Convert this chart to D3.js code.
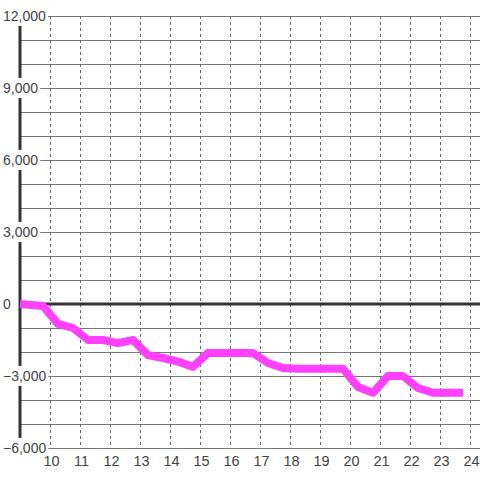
<!DOCTYPE html>
<html>
<head>
<meta charset="utf-8">
<script src="https://cdn.jsdelivr.net/npm/d3@7"></script>
<style>
  html, body { margin: 0; padding: 0; background: #fff; }
  svg { display: block; }
</style>
</head>
<body>
<svg id="chart" width="480" height="480"></svg>
<script>
// ---- data ----
const times = ["9:00","9:46","10:16","10:46","11:16","11:46","12:16","12:46","13:16","13:46",
  "14:16","14:46","15:16","15:46","16:16","16:46","17:16","17:46","18:16","18:46",
  "19:16","19:46","20:16","20:46","21:16","21:46","22:16","22:46","23:16","23:46"];
const values = [0,-80,-830,-1000,-1500,-1500,-1630,-1500,-2130,-2250,
  -2400,-2620,-2040,-2040,-2040,-2040,-2460,-2670,-2700,-2700,
  -2700,-2700,-3460,-3700,-3000,-3000,-3500,-3700,-3700,-3700];
const xTicks = [10,11,12,13,14,15,16,17,18,19,20,21,22,23,24];
const yLabelTicks = [12000, 9000, 6000, 3000, 0, -3000, -6000];
const yGridTicks = d3.range(-6000, 12001, 1000);

// ---- chart ----
const W = 480, H = 480;
const svg = d3.select("#chart");
const x = d3.scaleLinear().domain([9, 24 + 1/3]).range([20, 480]);
const y = d3.scaleLinear().domain([-6000, 12000]).range([448, 16]);
const toHour = s => { const [h, m] = s.split(":").map(Number); return h + m / 60; };
const data = times.map((t, i) => ({ t: toHour(t), v: values[i] }));

const font = "'Liberation Sans', Arial, sans-serif";

// horizontal grid
svg.append("g").selectAll("line").data(yGridTicks.filter(d => d !== 0)).join("line")
  .attr("x1", x(9)).attr("x2", W)
  .attr("y1", d => Math.round(y(d)) + 0.5).attr("y2", d => Math.round(y(d)) + 0.5)
  .attr("stroke", "#777").attr("stroke-width", 1);

// vertical dashed grid
svg.append("g").selectAll("line").data(xTicks).join("line")
  .attr("x1", d => Math.round(x(d)) + 0.5).attr("x2", d => Math.round(x(d)) + 0.5)
  .attr("y1", y(12000)).attr("y2", y(-6000))
  .attr("stroke", "#666").attr("stroke-width", 1).attr("stroke-dasharray", "3,3");

// zero line
svg.append("line")
  .attr("x1", x(9)).attr("x2", W).attr("y1", y(0)).attr("y2", y(0))
  .attr("stroke", "#333").attr("stroke-width", 3);

// y axis line
svg.append("line")
  .attr("x1", x(9)).attr("x2", x(9)).attr("y1", y(12000)).attr("y2", y(-6000))
  .attr("stroke", "#333").attr("stroke-width", 3);

// y labels with white backgrounds
const yl = svg.append("g").selectAll("g").data(yLabelTicks).join("g")
  .attr("transform", d => `translate(3,${y(d)})`);
yl.each(function(d) {
  const g = d3.select(this);
  const txt = g.append("text")
    .attr("x", 0).attr("dy", "0.35em")
    .attr("font-family", font).attr("font-size", "14px").attr("fill", "#444")
    .text(d3.format(",")(d));
  const bb = txt.node().getBBox();
  g.insert("rect", "text")
    .attr("x", bb.x - 1).attr("y", bb.y - 2)
    .attr("width", bb.width + 3).attr("height", bb.height + 4)
    .attr("fill", "#fff");
});

// x labels
svg.append("g").selectAll("text").data(xTicks).join("text")
  .attr("x", d => x(d) + 1.5).attr("y", 461).attr("dy", "0.35em")
  .attr("text-anchor", "middle")
  .attr("font-family", font).attr("font-size", "14.5px").attr("fill", "#444")
  .text(d => d);

// data line
svg.append("path").datum(data)
  .attr("d", d3.line().x(d => x(d.t)).y(d => y(d.v)))
  .attr("fill", "none").attr("stroke", "#ff40ff").attr("stroke-width", 8)
  .attr("stroke-linejoin", "round").attr("stroke-linecap", "butt");
</script>
</body>
</html>
